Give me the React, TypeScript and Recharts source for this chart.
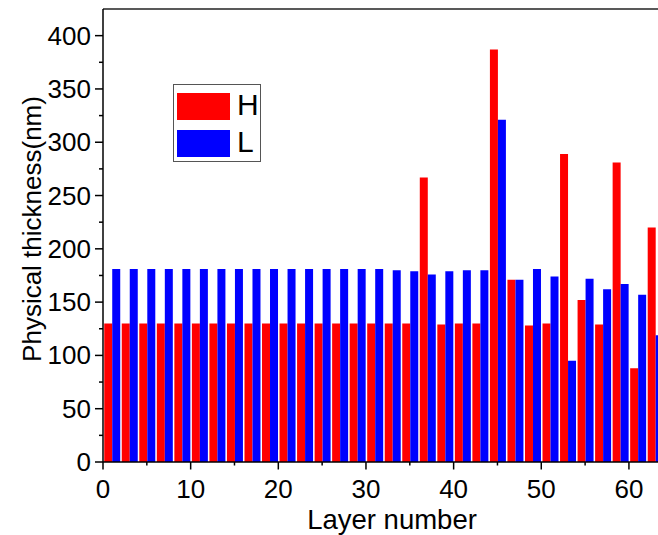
import {
  Bar,
  BarChart,
  Label,
  Legend,
  ReferenceLine,
  XAxis,
  YAxis,
} from "recharts";

// one group per H/L pair of layers, centred on the odd layer numbers
const pairs = [
  1, 3, 5, 7, 9, 11, 13, 15, 17, 19, 21, 23, 25, 27, 29, 31,
  33, 35, 37, 39, 41, 43, 45, 47, 49, 51, 53, 55, 57, 59, 61, 63,
];

const hThickness = [
  130, 130, 130, 130, 130, 130, 130, 130, 130, 130, 130, 130, 130, 130, 130, 130,
  130, 130, 267, 129, 130, 130, 387, 171, 128, 130, 289, 152, 129, 281, 88, 220,
];

const lThickness = [
  181, 181, 181, 181, 181, 181, 181, 181, 181, 181, 181, 181, 181, 181, 181, 181,
  180, 179, 176, 179, 180, 180, 321, 171, 181, 174, 95, 172, 162, 167, 157, 119,
];

const layerTicks = [0, 5, 10, 15, 20, 25, 30, 35, 40, 45, 50, 55, 60];
const thicknessTicks = [
  0, 25, 50, 75, 100, 125, 150, 175, 200, 225, 250, 275, 300, 325, 350, 375, 400,
];

const FONT = '"Liberation Sans", Arial, sans-serif';
const INK = "#000";

const data = pairs.map((p, i) => ({
  pair: p,
  H: hThickness[i],
  L: lThickness[i],
}));

const LayerTick = ({ x, y, payload }: any) => {
  const major = payload.value % 10 === 0;
  return (
    <g>
      <line x1={x} x2={x} y1={y} y2={y + (major ? 7.5 : 3.5)} stroke={INK} strokeWidth={1.5} />
      {major && (
        <text x={x} y={y + 36} textAnchor="middle" fontSize={26} fontFamily={FONT} fill={INK}>
          {payload.value}
        </text>
      )}
    </g>
  );
};

const ThicknessTick = ({ x, y, payload }: any) => {
  const major = payload.value % 50 === 0;
  return (
    <g>
      <line x1={x - (major ? 8 : 4)} x2={x} y1={y} y2={y} stroke={INK} strokeWidth={1.5} />
      {major && (
        <text x={x - 12} y={y + 9} textAnchor="end" fontSize={26} fontFamily={FONT} fill={INK}>
          {payload.value}
        </text>
      )}
    </g>
  );
};

const LegendBox = ({ payload }: any) => (
  <div
    style={{
      position: "relative",
      width: 86,
      height: 76,
      border: "1px solid #555",
      background: "#fff",
      fontFamily: FONT,
    }}
  >
    {(payload || []).map((item: any, i: number) => (
      <div key={item.value}>
        <div
          style={{
            position: "absolute",
            left: 3,
            top: 8 + i * 37,
            width: 53,
            height: 27,
            background: item.color,
          }}
        />
        <div
          style={{
            position: "absolute",
            left: 63,
            top: 3 + i * 37,
            fontSize: 30,
            lineHeight: "34px",
            color: INK,
          }}
        >
          {item.value}
        </div>
      </div>
    ))}
  </div>
);

export default function App() {
  return (
    <div
      style={{
        position: "fixed",
        left: 0,
        top: 0,
        width: 658,
        height: 535,
        overflow: "hidden",
        background: "#fff",
      }}
    >
      <BarChart
        width={680}
        height={535}
        data={data}
        margin={{ top: 9, right: 16, left: 0, bottom: 0 }}
        barCategoryGap="7%"
        barGap={0}
      >
        <XAxis
          dataKey="pair"
          type="number"
          domain={[0, 64]}
          allowDataOverflow
          ticks={layerTicks}
          interval={0}
          height={73}
          tickSize={0}
          tickMargin={0}
          tick={<LayerTick />}
          axisLine={{ stroke: INK, strokeWidth: 1.5 }}
        >
          <Label
            content={() => (
              <text x={392} y={529} textAnchor="middle" fontSize={27.5} fontFamily={FONT} fill={INK}>
                Layer number
              </text>
            )}
          />
        </XAxis>
        <YAxis
          domain={[0, 425]}
          allowDataOverflow
          ticks={thicknessTicks}
          interval={0}
          width={103}
          tickSize={0}
          tickMargin={0}
          tick={<ThicknessTick />}
          axisLine={{ stroke: INK, strokeWidth: 1.5 }}
        >
          <Label
            content={() => (
              <text
                transform="translate(41,229) rotate(-90)"
                textAnchor="middle"
                fontSize={26}
                fontFamily={FONT}
                fill={INK}
              >
                Physical thickness(nm)
              </text>
            )}
          />
        </YAxis>
        <ReferenceLine y={425} stroke="#222" strokeWidth={1.5} />
        <Legend
          layout="vertical"
          align="center"
          verticalAlign="middle"
          content={<LegendBox />}
          wrapperStyle={{ left: 173, top: 84, width: "auto" }}
        />
        <Bar dataKey="H" name="H" fill="#ff0000" isAnimationActive={false} />
        <Bar dataKey="L" name="L" fill="#0000ff" isAnimationActive={false} />
      </BarChart>
    </div>
  );
}
